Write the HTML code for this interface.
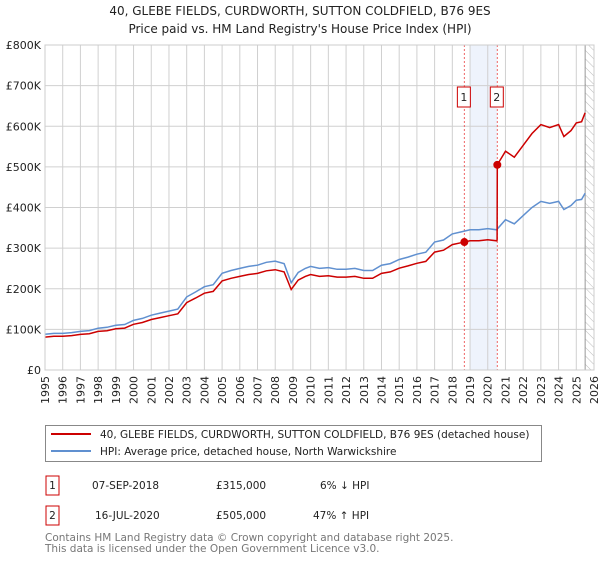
<!DOCTYPE html>
<html><head><meta charset="utf-8"><style>
body{margin:0;background:#fff;font-family:"DejaVu Sans","Liberation Sans",sans-serif;}
svg text{font-family:"DejaVu Sans","Liberation Sans",sans-serif;}
</style></head><body>
<svg id="c" width="600" height="560" viewBox="0 0 600 560">
<defs><pattern id="hatch" width="6" height="6" patternUnits="userSpaceOnUse" patternTransform="rotate(-45)"><line x1="0" y1="0" x2="0" y2="6" stroke="#bbb" stroke-width="1"/></pattern></defs>
<text x="300" y="15" text-anchor="middle" font-size="12" fill="#222">40, GLEBE FIELDS, CURDWORTH, SUTTON COLDFIELD, B76 9ES</text>
<text x="300" y="33" text-anchor="middle" font-size="12" fill="#222">Price paid vs. HM Land Registry's House Price Index (HPI)</text>
<g id="grid"></g><g id="marks"></g><g id="axes"></g>
<g>
<rect x="45.5" y="425.5" width="496" height="36" fill="#fff" stroke="#888"/>
<line x1="51" y1="434" x2="91" y2="434" stroke="#cc0000" stroke-width="2"/>
<text x="100" y="438" font-size="10.5" fill="#222">40, GLEBE FIELDS, CURDWORTH, SUTTON COLDFIELD, B76 9ES (detached house)</text>
<line x1="51" y1="451" x2="91" y2="451" stroke="#6090d0" stroke-width="2"/>
<text x="100" y="455" font-size="10.5" fill="#222">HPI: Average price, detached house, North Warwickshire</text>
</g>
<g font-size="10.5" fill="#222">
<rect x="46" y="476" width="13" height="19" fill="#fff" stroke="#cc0000"/><text x="52.5" y="489" text-anchor="middle">1</text>
<text x="92" y="489">07-SEP-2018</text><text x="216" y="489">£315,000</text><text x="320" y="489">6% ↓ HPI</text>
<rect x="46" y="506" width="13" height="19" fill="#fff" stroke="#cc0000"/><text x="52.5" y="519" text-anchor="middle">2</text>
<text x="95" y="519">16-JUL-2020</text><text x="216" y="519">£505,000</text><text x="313" y="519">47% ↑ HPI</text>
</g>
<text x="45" y="541" font-size="10.5" fill="#777">Contains HM Land Registry data © Crown copyright and database right 2025.</text>
<text x="45" y="552" font-size="10.5" fill="#777">This data is licensed under the Open Government Licence v3.0.</text>
</svg>
<script>
const hpiYears=[1995,1995.5,1996,1996.5,1997,1997.5,1998,1998.5,1999,1999.5,2000,2000.5,2001,2001.5,2002,2002.5,2003,2003.5,2004,2004.5,2005,2005.5,2006,2006.5,2007,2007.5,2008,2008.5,2008.9,2009.3,2009.7,2010,2010.5,2011,2011.5,2012,2012.5,2013,2013.5,2014,2014.5,2015,2015.5,2016,2016.5,2017,2017.5,2018,2018.5,2019,2019.5,2020,2020.5,2021,2021.5,2022,2022.5,2023,2023.5,2024,2024.3,2024.7,2025,2025.3,2025.5];
const hpiValues=[88,90,90,92,95,97,103,105,110,112,122,127,135,140,145,150,180,192,205,210,238,245,250,255,258,265,268,262,215,240,250,255,250,252,248,248,250,245,245,258,262,272,278,285,290,315,320,335,340,345,345,348,345,370,360,380,400,415,410,415,395,405,418,420,435];
const saleYears=[2018.68,2020.54];
const salePrices=[315,505];
const yTicks=[0,100,200,300,400,500,600,700,800];
const yTickLabels=["£0","£100K","£200K","£300K","£400K","£500K","£600K","£700K","£800K"];
const xTicks=[1995,1996,1997,1998,1999,2000,2001,2002,2003,2004,2005,2006,2007,2008,2009,2010,2011,2012,2013,2014,2015,2016,2017,2018,2019,2020,2021,2022,2023,2024,2025,2026];
const NS="http://www.w3.org/2000/svg";
const L=45,R=594,T=45,B=370;
const x=v=>L+(v-1995)*(R-L)/31;
const y=v=>B-v*(B-T)/800;
function mk(tag,at,parent){const e=document.createElementNS(NS,tag);for(const k in at)e.setAttribute(k,at[k]);parent.appendChild(e);return e;}
const grid=document.getElementById('grid'),marks=document.getElementById('marks'),axes=document.getElementById('axes');
let band=mk('rect',{x:x(2019),y:T,width:x(saleYears[1])-x(2019),height:B-T,fill:'#eef3fc'},grid);


let hatch=mk('rect',{x:x(2025.5),y:T,width:R-x(2025.5),height:B-T,fill:'url(#hatch)'},grid);


xTicks.forEach(t=>{let g=mk('line',{x1:x(t),x2:x(t),y1:T,y2:B,stroke:'#d0d0d0','stroke-width':1},grid);


let tx=mk('text',{x:0,y:0,'font-size':11,fill:'#222','text-anchor':'end',transform:`translate(${x(t)+4},${B+6}) rotate(-90)`},axes);tx.textContent=t;

});
yTicks.forEach((t,i)=>{let g=mk('line',{x1:L,x2:R,y1:y(t),y2:y(t),stroke:'#d0d0d0','stroke-width':1},grid);


let tx=mk('text',{x:L-4,y:y(t)+4,'font-size':11,fill:'#222','text-anchor':'end'},axes);tx.textContent=yTickLabels[i];

});
let ed=mk('line',{x1:x(2025.5),x2:x(2025.5),y1:T,y2:B,stroke:'#999','stroke-width':1},grid);


saleYears.forEach((s,i)=>{let d=mk('line',{x1:x(s),x2:x(s),y1:T,y2:B,stroke:'#ee6666','stroke-width':1,'stroke-dasharray':'2,2'},grid);


let r=mk('rect',{x:x(s)-7,y:87,width:13,height:20,fill:'#fff',stroke:'#cc0000'},axes);


let t=mk('text',{x:x(s)-0.5,y:101,'font-size':11,fill:'#222','text-anchor':'middle'},axes);t.textContent=String(i+1);

});
function hpiAt(t){for(let i=1;i<hpiYears.length;i++){if(t<=hpiYears[i]){const f=(t-hpiYears[i-1])/(hpiYears[i]-hpiYears[i-1]);return hpiValues[i-1]+f*(hpiValues[i]-hpiValues[i-1]);}}return hpiValues[hpiValues.length-1];}
let hp=hpiYears.map((t,i)=>x(t).toFixed(1)+','+y(hpiValues[i]).toFixed(1)).join(' ');
let hl=mk('polyline',{points:hp,fill:'none',stroke:'#6090d0','stroke-width':1.5},marks);


const r1=salePrices[0]/hpiAt(saleYears[0]),r2=salePrices[1]/hpiAt(saleYears[1]);
let pts=[];
hpiYears.forEach((t,i)=>{if(t<saleYears[1])pts.push([t,hpiValues[i]*r1]);});
pts.push([saleYears[1]-0.01,hpiAt(saleYears[1])*r1]);
pts.push([saleYears[1],salePrices[1]]);
hpiYears.forEach((t,i)=>{if(t>saleYears[1])pts.push([t,hpiValues[i]*r2]);});
let pl=mk('polyline',{points:pts.map(p=>x(p[0]).toFixed(1)+','+y(p[1]).toFixed(1)).join(' '),fill:'none',stroke:'#cc0000','stroke-width':1.5},marks);


saleYears.forEach((s,i)=>{let c=mk('circle',{cx:x(s),cy:y(salePrices[i]),r:4,fill:'#cc0000'},marks);

});
let fr=mk('rect',{x:L,y:T,width:R-L,height:B-T,fill:'none',stroke:'#ccc'},axes);


</script>
</body></html>
